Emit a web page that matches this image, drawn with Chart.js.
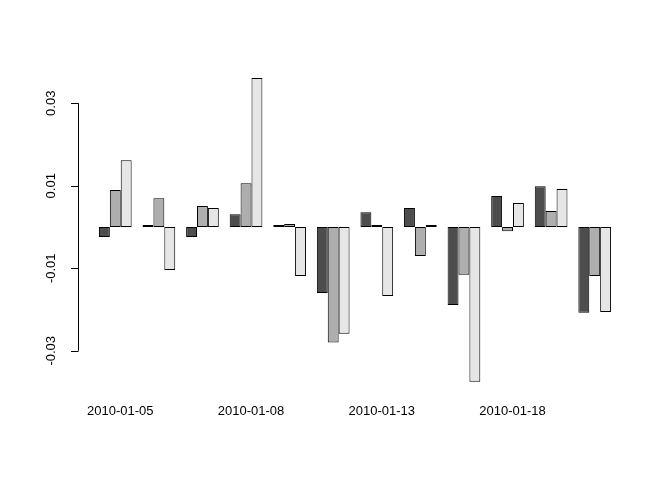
<!DOCTYPE html>
<html>
<head>
<meta charset="utf-8">
<script src="https://cdn.jsdelivr.net/npm/chart.js@4"></script>
<style>
  html, body { margin: 0; padding: 0; background: #fff; }
  #wrap { width: 672px; height: 480px; }
</style>
</head>
<body>
<div id="wrap"><canvas id="myChart" width="672" height="480"></canvas></div>
<script>
    "use strict";
    // data
    const fechas = ['2010-01-05', '2010-01-06', '2010-01-07', '2010-01-08', '2010-01-11', '2010-01-12',
        '2010-01-13', '2010-01-14', '2010-01-15', '2010-01-18', '2010-01-19', '2010-01-20'];
    const serieA = [-0.0024, 0.0005, -0.0024, 0.0031, 0.0005, -0.0160, 0.0036, 0.0046, -0.0189, 0.0075, 0.0099, -0.0208];
    const serieB = [0.0090, 0.0070, 0.0051, 0.0106, 0.0007, -0.0280, 0.0005, -0.0070, -0.0116, -0.0010, 0.0039, -0.0119];
    const serieC = [0.0162, -0.0104, 0.0046, 0.0361, -0.0119, -0.0259, -0.0167, 0.0005, -0.0375, 0.0058, 0.0092, -0.0206];
    const yTicks = [-0.03, -0.01, 0.01, 0.03];
    const xTickIdx = [0, 3, 6, 9];

    const ejes = {
        id: 'ejes',
        afterDraw(chart) {
            const ctx = chart.ctx;
            const y = chart.scales.y;
            const x = chart.scales.x;
            const ax = 78;
            ctx.save();
            ctx.strokeStyle = '#000';
            ctx.lineWidth = 1;
            ctx.beginPath();
            ctx.moveTo(ax + 0.5, y.getPixelForValue(yTicks[yTicks.length - 1]));
            ctx.lineTo(ax + 0.5, y.getPixelForValue(yTicks[0]));
            yTicks.forEach(function (t) {
                const py = Math.round(y.getPixelForValue(t)) + 0.5;
                ctx.moveTo(ax + 0.5, py);
                ctx.lineTo(ax - 7, py);
            });
            ctx.stroke();
            ctx.fillStyle = '#000';
            ctx.font = '13px "Liberation Sans", Arial, sans-serif';
            ctx.textAlign = 'center';
            ctx.textBaseline = 'middle';
            yTicks.forEach(function (t) {
                ctx.save();
                ctx.translate(51, y.getPixelForValue(t));
                ctx.rotate(-Math.PI / 2);
                ctx.fillText(String(t).replace('0.', '0.').replace('-0.', '-0.'), 0, 0);
                ctx.restore();
            });
            xTickIdx.forEach(function (i) {
                ctx.fillText(fechas[i], x.getPixelForValue(i) + 5, 411);
            });
            ctx.restore();
        }
    };

    const ctx = document.getElementById('myChart').getContext('2d');
    new Chart(ctx, {
        type: 'bar',
        data: {
            labels: fechas,
            datasets: [
                { data: serieA, backgroundColor: '#4D4D4D', borderColor: '#000', borderWidth: 1 },
                { data: serieB, backgroundColor: '#AEAEAE', borderColor: '#000', borderWidth: 1 },
                { data: serieC, backgroundColor: '#E6E6E6', borderColor: '#000', borderWidth: 1 }
            ]
        },
        options: {
            responsive: false,
            animation: false,
            layout: { padding: { left: 93.5, right: 55.5, top: 62, bottom: 88 } },
            datasets: { bar: { categoryPercentage: 0.75, barPercentage: 1, borderSkipped: false } },
            plugins: { legend: { display: false }, tooltip: { enabled: false } },
            scales: {
                x: { display: false },
                y: { display: false, min: -0.04, max: 0.04 }
            }
        },
        plugins: [ejes]
    });
</script>
</body>
</html>
